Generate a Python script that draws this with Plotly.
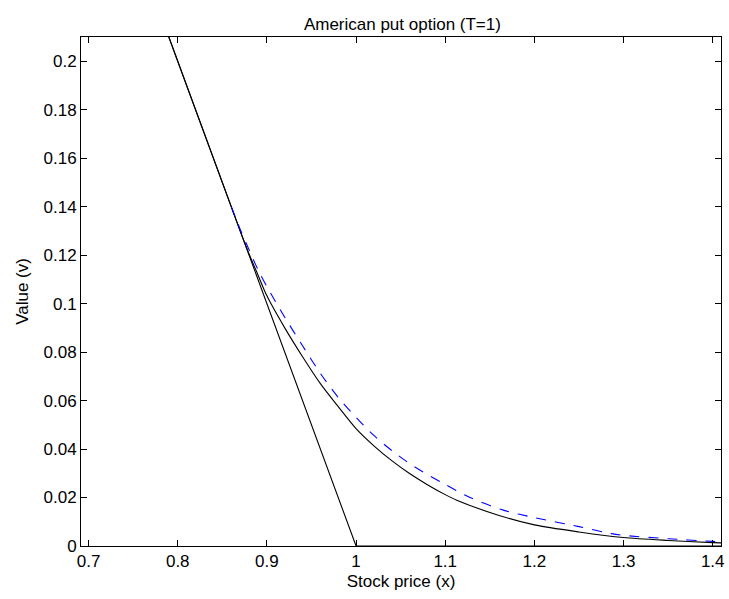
import plotly.graph_objects as go

# Payoff max(K - x, 0), K = 1
payoff_x = [0.69, 1.0, 1.41]
payoff_v = [0.31, 0.0, 0.0]

# American put value (solid black)
amer_x = [0.69, 0.80, 0.86, 0.87, 0.88, 0.89, 0.90, 0.92, 0.94, 0.96, 0.98, 1.00,
          1.02, 1.04, 1.06, 1.08, 1.10, 1.1129, 1.1595, 1.20, 1.25, 1.30, 1.35, 1.40, 1.41]
amer_v = [0.31, 0.20, 0.140, 0.130, 0.1205, 0.1118, 0.1032, 0.0900, 0.0781, 0.0670, 0.0575, 0.0484,
          0.0413, 0.0352, 0.0299, 0.0253, 0.0212, 0.0189, 0.0127, 0.0087, 0.0058, 0.0035, 0.0023, 0.0014, 0.0013]

# Approximation (dashed blue)
approx_x = [0.86, 0.87, 0.88, 0.89, 0.90, 0.92, 0.94, 0.96, 0.98, 1.00, 1.02, 1.04, 1.06,
            1.08, 1.10, 1.1279, 1.165, 1.20, 1.25, 1.2865, 1.30, 1.35, 1.40, 1.41]
approx_v = [0.140, 0.1307, 0.1222, 0.1140, 0.1070, 0.0944, 0.0826, 0.0712, 0.0613, 0.0531, 0.0456,
            0.0394, 0.0340, 0.0295, 0.0254, 0.0200, 0.0148, 0.0117, 0.0080, 0.0051, 0.0044, 0.0030,
            0.0019, 0.0017]

x_ticks = [0.7, 0.8, 0.9, 1.0, 1.1, 1.2, 1.3, 1.4]
x_tick_labels = ["0.7", "0.8", "0.9", "1", "1.1", "1.2", "1.3", "1.4"]
y_ticks = [0, 0.02, 0.04, 0.06, 0.08, 0.1, 0.12, 0.14, 0.16, 0.18, 0.2]
y_tick_labels = ["0", "0.02", "0.04", "0.06", "0.08", "0.1", "0.12", "0.14", "0.16", "0.18", "0.2"]

FONT = "Liberation Sans, Arial, sans-serif"
FS = 17

fig = go.Figure()
fig.add_trace(go.Scatter(x=payoff_x, y=payoff_v, mode="lines",
                         line=dict(color="black", width=1.1), showlegend=False))
fig.add_trace(go.Scatter(x=amer_x, y=amer_v, mode="lines",
                         line=dict(color="black", width=1.1, shape="spline", smoothing=0.8),
                         showlegend=False))
fig.add_trace(go.Scatter(x=approx_x, y=approx_v, mode="lines",
                         line=dict(color="#0000ff", width=1.1, dash="10px,9px",
                                   shape="spline", smoothing=0.8),
                         showlegend=False))

axis_common = dict(showline=True, linecolor="black", linewidth=1, mirror="allticks",
                   ticks="inside", ticklen=6, tickcolor="black", showgrid=False,
                   zeroline=False, ticklabeloverflow="allow",
                   tickfont=dict(family=FONT, size=FS, color="black"))

fig.update_layout(
    width=729, height=599,
    margin=dict(l=81, r=5, t=37, b=53),
    paper_bgcolor="white", plot_bgcolor="white",
    font=dict(family=FONT, size=FS, color="black"),
    hovermode=False,
    title=dict(text="American put option (T=1)", x=0.552, xanchor="center",
               y=1 - 24 / 599, yanchor="middle", yref="container",
               font=dict(family=FONT, size=FS, color="black")),
    xaxis=dict(range=[0.6915, 1.4093], tickvals=x_ticks, ticktext=x_tick_labels,
               title=dict(text="Stock price (x)", standoff=4,
                          font=dict(family=FONT, size=FS)),
               **axis_common),
    yaxis=dict(range=[0, 0.21], tickvals=y_ticks, ticktext=y_tick_labels,
               title=dict(text="Value (v)", standoff=10,
                          font=dict(family=FONT, size=FS)),
               **axis_common),
)

fig.write_html("out.html",
               config={"displayModeBar": False, "staticPlot": True},
               post_script="document.body.style.margin='0px';document.body.style.padding='0px';")
